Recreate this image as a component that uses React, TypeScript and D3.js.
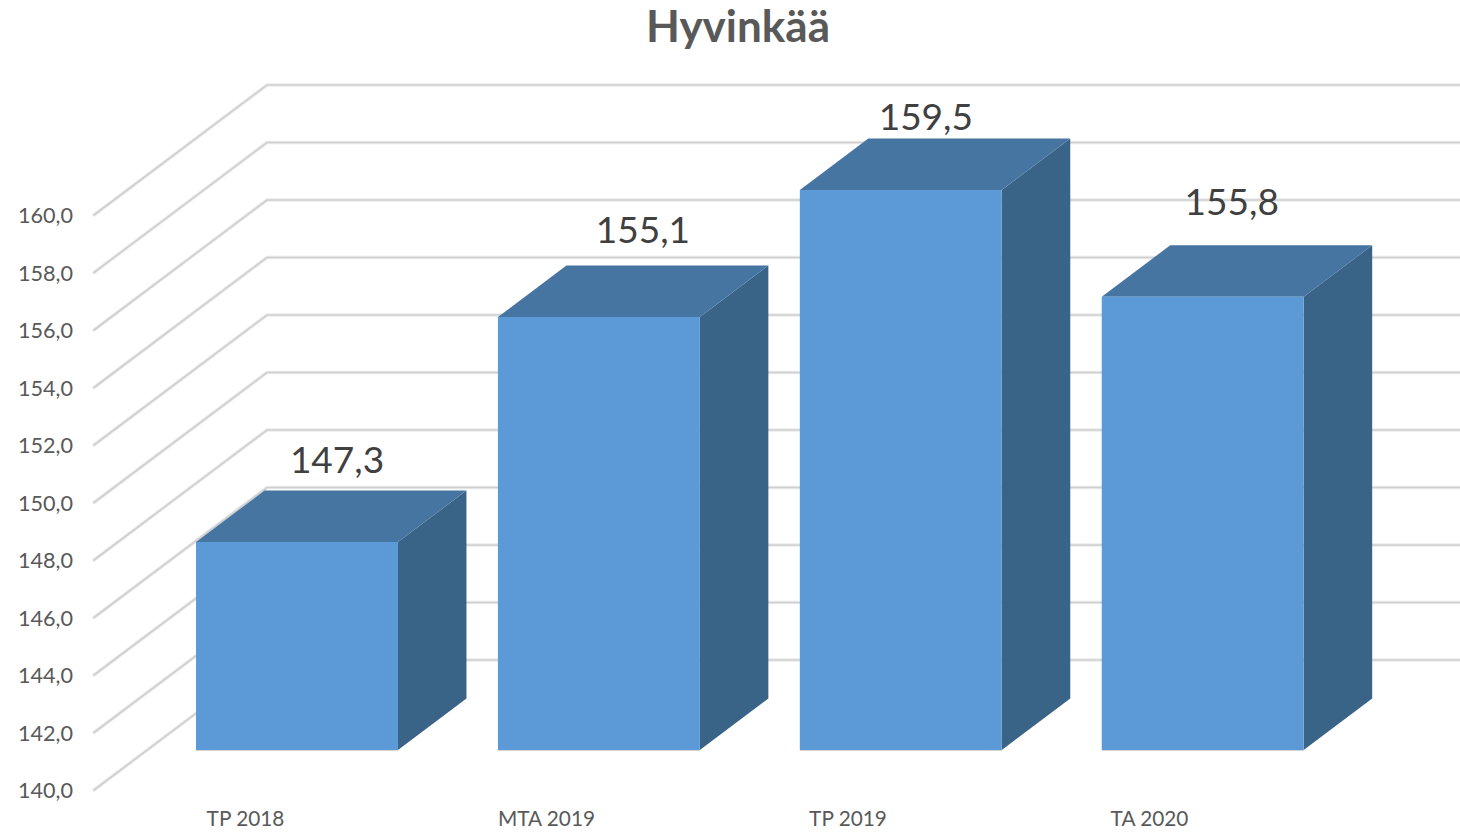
import * as d3 from 'd3';

const categories = ['TP 2018', 'MTA 2019', 'TP 2019', 'TA 2020'];
const values = [147.3, 155.1, 159.5, 155.8];
const valueLabels = ['147,3', '155,1', '159,5', '155,8'];
const yTicks = [140, 142, 144, 146, 148, 150, 152, 154, 156, 158, 160];

export default function App() {
  const width = 1460;
  const height = 832;
  const depthX = 173;
  const depthY = -130;
  const floorLeft = 94;
  const barDepthX = 68.5;
  const barDepthY = -51.5;
  const bottom = 750;

  const y = d3.scaleLinear().domain([140, 160]).range([790, 215]);
  // bars stand part way into the depth, so they get their own slightly offset scale
  const barY = d3.scaleLinear().domain([140, 160]).range([752.6, 175.6]);
  const x = d3.scaleBand().domain(categories).range([144.7, 1355]).paddingInner(100 / 302).paddingOuter(0.17);

  // data labels were placed by hand in the original
  const labelDx = [141, 145, 126, 130];
  const labelDy = [-69, -74, -60, -82];
  const categoryX = [245.5, 546.5, 848, 1149.5];

  return (
    <div style={{ position: 'absolute', left: 0, top: 0 }}>
      <svg width={width} height={height} viewBox={`0 0 ${width} ${height}`} style={{ display: 'block', fontFamily: 'Lato, sans-serif' }}>
        <rect width={width} height={height} fill="#ffffff" />
        <text x={738} y={42} textAnchor="middle" fontSize={44} fontWeight={700} fill="#595959">Hyvinkää</text>

        {yTicks.map((t) => {
          const d = `M${floorLeft},${y(t)}L${floorLeft + depthX},${y(t) + depthY}L${width},${y(t) + depthY}`;
          return (
            <g key={t}>
              <path d={d} fill="none" stroke="#ececec" strokeWidth={3.5} strokeLinecap="round" />
              <path d={d} fill="none" stroke="#cfcfcf" strokeWidth={1.6} strokeLinecap="round" />
              <text x={73} y={y(t) + 8} textAnchor="end" fontSize={21.6} fill="#595959">
                {t.toFixed(1).replace('.', ',')}
              </text>
            </g>
          );
        })}

        {categories.map((c, i) => {
          const left = x(c);
          const w = x.bandwidth();
          const top = barY(values[i]);
          return (
            <g key={c}>
              <path d={`M${left + w},${top}L${left + w + barDepthX},${top + barDepthY}L${left + w + barDepthX},${bottom + barDepthY}L${left + w},${bottom}Z`} fill="#396387" />
              <path d={`M${left},${top}L${left + barDepthX},${top + barDepthY}L${left + w + barDepthX},${top + barDepthY}L${left + w},${top}Z`} fill="#4675a2" />
              <rect x={left} y={top} width={w} height={bottom - top} fill="#5b9ad6" />
              <line x1={left} x2={left + w} y1={bottom + 0.5} y2={bottom + 0.5} stroke="#d4d4d4" strokeWidth={1} />
              <text x={left + labelDx[i]} y={top + labelDy[i]} textAnchor="middle" fontSize={37} fill="#404040">{valueLabels[i]}</text>
            </g>
          );
        })}

        {categories.map((c, i) => (
          <text key={c} x={categoryX[i]} y={826} textAnchor="middle" fontSize={20.8} fill="#595959">{c}</text>
        ))}
      </svg>
    </div>
  );
}
